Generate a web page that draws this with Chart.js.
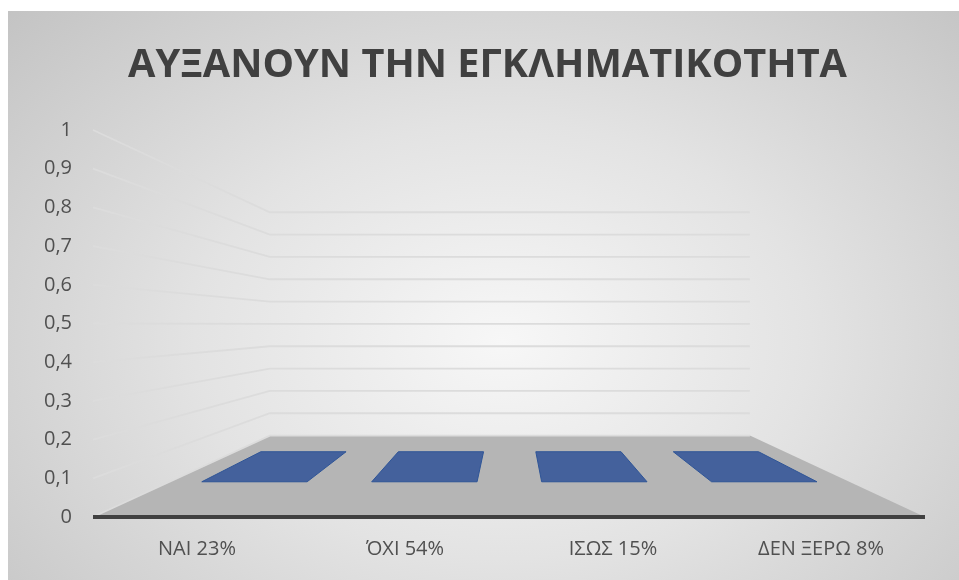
<!DOCTYPE html>
<html><head><meta charset="utf-8">
<script src="https://cdn.jsdelivr.net/npm/chart.js@4/dist/chart.umd.min.js"></script>
<style>
html,body{margin:0;padding:0;background:#fff;width:959px;height:580px;overflow:hidden;}
#wrap{position:absolute;left:8px;top:11px;width:951px;height:569px;
 background:radial-gradient(ellipse 72% 85% at 52% 58%, #f7f7f7 0%, #e3e3e3 45%, #c3c3c3 100%);}
canvas{display:block}
</style></head><body>
<div id="wrap"><canvas id="c" width="951" height="569"></canvas></div>
<script>
const chartTitle = 'ΑΥΞΑΝΟΥΝ ΤΗΝ ΕΓΚΛΗΜΑΤΙΚΟΤΗΤΑ';
const categories = ['ΝΑΙ 23%', 'ΌΧΙ 54%', 'ΙΣΩΣ 15%', 'ΔΕΝ ΞΕΡΩ 8%'];
const values = [0, 0, 0, 0];
const yTicks = [0, 0.1, 0.2, 0.3, 0.4, 0.5, 0.6, 0.7, 0.8, 0.9, 1];
const yTickLabels = ['0', '0,1', '0,2', '0,3', '0,4', '0,5', '0,6', '0,7', '0,8', '0,9', '1'];

const BACK_SCALE = 0.577;   // depth scale of the back wall
const BAR_FRONT = 0.817;    // depth scale of the bar's front edge
const BAR_BACK = 0.661;     // depth scale of the bar's back edge
const BAR_FILL = '#44619c';
const BAR_EDGE = '#2f5597';

const threeD = {
  id: 'threeD',
  beforeDatasetsDraw(chart) {
    const {ctx, chartArea: a, scales: {x, y}} = chart;
    const cx = (a.left + a.right) / 2 + 2;
    const cy = (a.top + a.bottom) / 2 + 1;
    const P = (px, py, s) => [cx + (px - cx) * s, cy + (py - cy) * s];
    const y0 = y.getPixelForValue(0);
    ctx.save();
    const fl = [[a.left, y0], [a.right, y0], P(a.right, y0, BACK_SCALE), P(a.left, y0, BACK_SCALE)];
    ctx.beginPath();
    fl.forEach((p, i) => i ? ctx.lineTo(p[0], p[1]) : ctx.moveTo(p[0], p[1]));
    ctx.closePath();
    ctx.fillStyle = '#b5b5b5';
    ctx.fill();
    ctx.strokeStyle = '#dcdcdc';
    ctx.lineWidth = 1.8;
    yTicks.forEach(v => {
      const py = y.getPixelForValue(v);
      const b1 = P(a.left, py, BACK_SCALE), b2 = P(a.right, py, BACK_SCALE);
      ctx.beginPath();
      ctx.moveTo(a.left, py);
      ctx.lineTo(b1[0], b1[1]);
      ctx.lineTo(b2[0], b2[1]);
      ctx.stroke();
    });
    const meta = chart.getDatasetMeta(0);
    meta.data.forEach(el => {
      const l = el.x - el.width / 2, r = el.x + el.width / 2, by = el.y;
      const pts = [P(l, by, BAR_FRONT), P(r, by, BAR_FRONT), P(r, by, BAR_BACK), P(l, by, BAR_BACK)];
      ctx.beginPath();
      pts.forEach((p, i) => i ? ctx.lineTo(p[0], p[1]) : ctx.moveTo(p[0], p[1]));
      ctx.closePath();
      ctx.fillStyle = BAR_FILL;
      ctx.fill();
      ctx.strokeStyle = BAR_EDGE;
      ctx.lineWidth = 1;
      ctx.stroke();
    });
    ctx.strokeStyle = '#404040';
    ctx.lineWidth = 4;
    ctx.beginPath();
    ctx.moveTo(a.left, y0);
    ctx.lineTo(a.right, y0);
    ctx.stroke();
    ctx.restore();
    return false;
  },
  afterDraw(chart) {
    const ctx = chart.ctx;
    ctx.save();
    ctx.font = 'bold 40px "Open Sans"';
    ctx.fillStyle = '#404040';
    ctx.textBaseline = 'alphabetic';
    ctx.textAlign = 'center';
    const w = ctx.measureText(chartTitle).width;
    const k = 719 / w;
    ctx.translate(479.5, 66);
    ctx.scale(k, 1);
    ctx.fillText(chartTitle, 0, 0);
    ctx.restore();
  }
};

new Chart(document.getElementById('c'), {
  type: 'bar',
  data: {
    labels: categories,
    datasets: [{
      data: values,
      backgroundColor: BAR_FILL,
      borderWidth: 0,
      barPercentage: 0.62,
      categoryPercentage: 1
    }]
  },
  options: {
    responsive: false,
    animation: false,
    layout: {padding: {left: 0, right: 34, top: 119, bottom: 0}},
    plugins: {
      legend: {display: false},
      tooltip: {enabled: false},
      title: {display: false}
    },
    scales: {
      x: {
        grid: {display: false, drawTicks: false},
        border: {display: false},
        ticks: {color: '#505050', font: {family: 'Open Sans', size: 20}, padding: 20},
        afterFit(s) { s.height = 63; }
      },
      y: {
        min: 0, max: 1,
        grid: {display: false, drawTicks: false},
        border: {display: false},
        afterBuildTicks(s) { s.ticks = yTicks.map(v => ({value: v})); },
        ticks: {
          color: '#505050', font: {family: 'Open Sans', size: 20}, padding: 21,
          callback: (v, i) => yTickLabels[i]
        },
        afterFit(s) { s.width = 85; }
      }
    }
  },
  plugins: [threeD]
});
</script>
</body></html>
